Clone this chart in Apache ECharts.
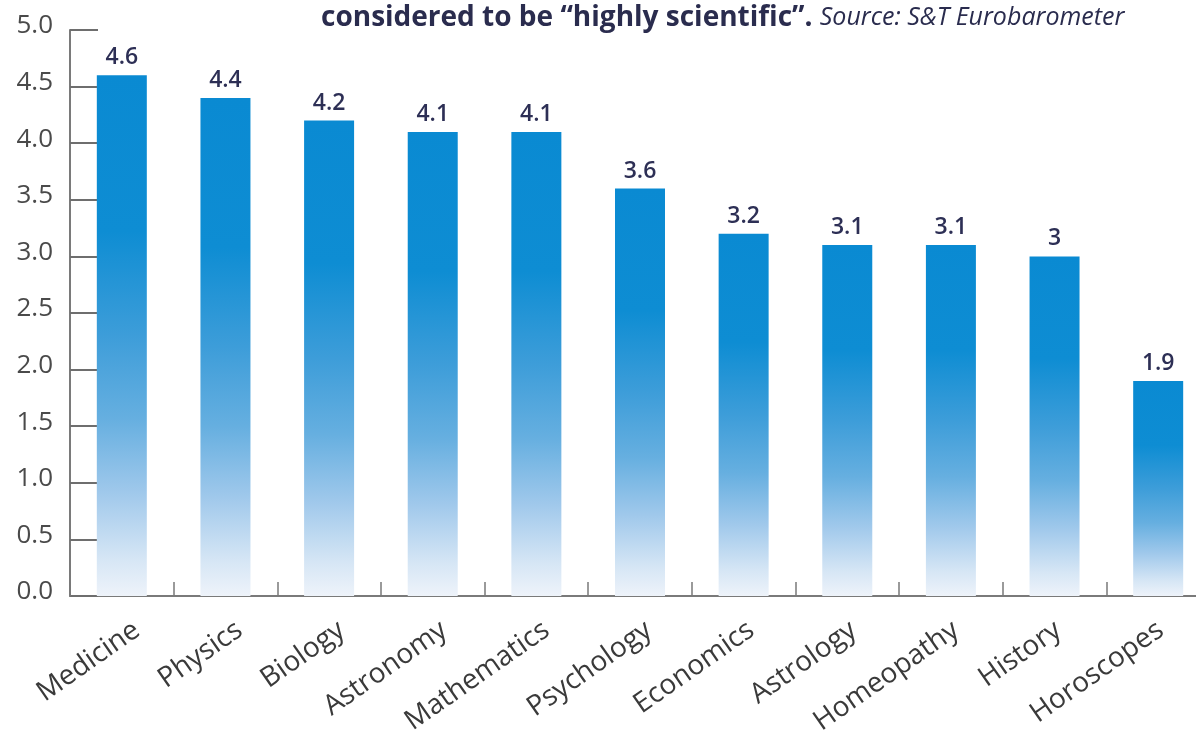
<!DOCTYPE html>
<html><head><meta charset="utf-8">
<script src="https://cdn.jsdelivr.net/npm/echarts@6/dist/echarts.min.js"></script>
<style>html,body{margin:0;padding:0;background:#fff;overflow:hidden;width:1196px;height:738px}#c{width:1220px;height:738px}</style>
</head><body><div id="c"></div>
<script>
const categories = ['Medicine','Physics','Biology','Astronomy','Mathematics','Psychology','Economics','Astrology','Homeopathy','History','Horoscopes'];
const values = [4.6, 4.4, 4.2, 4.1, 4.1, 3.6, 3.2, 3.1, 3.1, 3, 1.9];
const valueLabels = ['4.6','4.4','4.2','4.1','4.1','3.6','3.2','3.1','3.1','3','1.9'];
const yTickLabels = ['0.0','0.5','1.0','1.5','2.0','2.5','3.0','3.5','4.0','4.5','5.0'];

const chart = echarts.init(document.getElementById('c'), null, {renderer:'canvas'});
chart.setOption({
  backgroundColor:'#ffffff',
  animation:false,
  title:{
    left:316, top:-1,
    text:'{b|considered to be \u201chighly scientific\u201d. }{s|Source: S&T Eurobarometer}',
    textStyle:{rich:{
      b:{fontFamily:'Open Sans', fontWeight:'bold', fontSize:28, color:'#2a2c4e'},
      s:{fontFamily:'Open Sans', fontStyle:'italic', fontWeight:'normal', fontSize:25, color:'#2a2c4e'}
    }}
  },
  grid:[
    {left:70, right:10, top:30, bottom:142, containLabel:false},
    {left:86, right:8, top:30, bottom:142, containLabel:false}
  ],
  xAxis:[{
    type:'category', data:categories, gridIndex:0,
    axisLine:{show:true, lineStyle:{color:'#7a7a7a', width:2}},
    axisTick:{show:true, inside:true, length:14, lineStyle:{color:'#7a7a7a', width:1.5}},
    axisLabel:{show:false}
  },{
    type:'category', data:categories, gridIndex:1,
    axisLine:{show:false}, axisTick:{show:false},
    axisLabel:{rotate:35, margin:43, fontFamily:'Open Sans', fontSize:28, color:'#3a3a3a', interval:0}
  }],
  yAxis:[{
    type:'value', min:0, max:5, interval:0.5, gridIndex:0,
    axisLine:{show:true, lineStyle:{color:'#7a7a7a', width:2}},
    axisTick:{show:true, inside:true, length:28, lineStyle:{color:'#6e6e6e', width:2}},
    splitLine:{show:false},
    axisLabel:{margin:17,
      formatter:(v)=>'{a|'+yTickLabels[Math.round(v*2)]+'}',
      rich:{a:{fontFamily:'Open Sans', fontSize:26, color:'#4a4a4a', padding:[0,0,8,0]}}}
  },{
    type:'value', min:0, max:5, gridIndex:1, show:false
  }],
  series:[{
    type:'bar', data:values, barWidth:50, xAxisIndex:0, yAxisIndex:0, z:3,
    itemStyle:{color:new echarts.graphic.LinearGradient(0,0,0,1,[
      {offset:0,color:'#0a8ad2'},
      {offset:0.3,color:'#0e8dd3'},
      {offset:0.5,color:'#3d9dd9'},
      {offset:0.66,color:'#66afe0'},
      {offset:0.8,color:'#9fc8eb'},
      {offset:0.93,color:'#d6e6f5'},
      {offset:1,color:'#eef3fa'}
    ])},
    label:{show:true, position:'top', distance:6,
      formatter:(p)=>valueLabels[p.dataIndex],
      fontFamily:'Open Sans', fontWeight:600, fontSize:23, color:'#2d2f55'}
  }]
});
</script></body></html>
